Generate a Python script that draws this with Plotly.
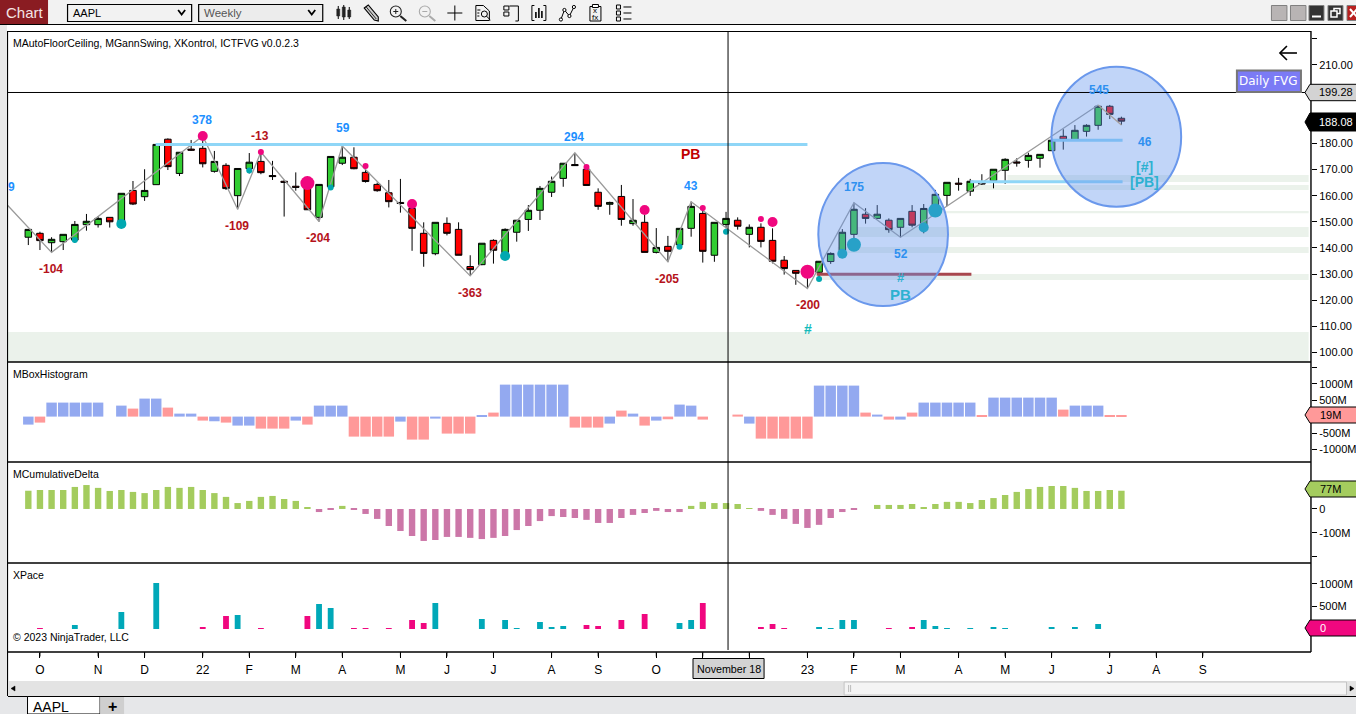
import plotly.graph_objects as go

W, H = 1356, 714
S = 1356 / 1353.0   # horizontal calibration of the photographed page
FONT = "Liberation Sans"

# ---------- data ----------
candle_open = [144.1,145.6,142.0,142.4,143.0,148.9,148.9,151.7,149.4,162.0,159.6,164.2,181.6,168.5,177.8,178.1,169.3,171.6,160.0,170.3,
 173.1,167.7,165.5,163.6,163.4,151.7,163.4,172.4,174.7,168.9,164.3,161.1,157.4,155.1,145.6,137.8,149.4,147.1,132.9,133.6,
 142.9,138.2,146.0,150.9,154.4,161.3,166.6,171.9,170.1,161.3,156.7,159.7,149.3,149.8,138.3,140.6,141.2,147.5,153.2,137.2,
 149.0,150.6,145.2,147.9,142.9,135.3,131.4,132.2,130.7,134.8,139.0,145.2,152.9,151.3,150.6,147.9,154.0,148.8,155.1,160.1,
 164.8,161.7,164.9,165.7,169.7,172.9,173.5,174.3,177.2,182.7,181.5,184.6,186.9,194.2,189.6]
candle_high = [147.1,146.2,144.1,145.2,150.3,153.0,152.2,151.7,160.9,165.6,170.1,179.6,181.9,176.6,181.3,182.8,177.1,172.4,170.4,176.3,
 177.7,173.3,166.0,168.9,167.3,164.3,175.0,179.0,178.5,171.3,165.0,166.0,166.4,156.8,149.8,149.8,151.7,149.8,137.2,141.8,
 143.3,147.5,150.6,156.4,163.7,167.3,172.4,176.2,171.7,162.8,157.7,164.1,158.7,152.6,147.6,144.6,147.5,157.7,155.1,149.8,
 153.8,151.7,149.0,149.4,147.5,136.9,131.4,132.2,134.9,138.3,147.2,157.3,155.2,156.4,151.3,151.3,156.4,156.8,162.2,165.1,
 166.8,166.4,168.2,170.1,174.3,174.3,176.4,175.8,182.3,185.4,187.0,187.3,194.7,194.7,190.2]
candle_low = [141.1,139.2,138.3,139.2,142.0,146.6,147.8,147.8,147.5,156.4,158.0,164.2,169.8,167.5,177.2,170.8,168.8,162.2,154.8,168.5,
 168.2,166.0,152.0,161.9,154.6,150.1,162.2,171.7,170.1,165.0,161.5,155.5,153.5,138.9,132.8,137.2,144.8,137.2,129.3,133.4,
 134.0,137.3,142.4,146.5,150.7,159.5,163.4,171.6,163.9,154.6,152.7,148.5,148.5,138.3,137.9,134.7,140.4,144.3,134.4,134.7,
 147.5,147.0,140.2,140.2,134.1,129.8,125.9,124.5,128.4,133.9,137.9,143.0,149.3,151.2,145.8,144.1,147.9,145.6,153.9,156.0,
 161.9,159.9,164.1,162.8,164.5,171.1,170.7,170.7,177.2,177.6,181.5,182.6,185.2,189.3,187.0]
candle_close = [147.1,142.8,143.3,145.2,149.0,150.2,151.3,150.0,160.9,156.8,162.0,179.6,171.1,176.6,177.4,172.2,173.1,162.7,170.4,172.8,
 168.8,167.3,165.1,163.2,154.6,164.3,175.0,174.7,170.3,165.4,161.9,157.7,157.0,147.5,137.9,149.8,145.6,137.2,131.7,141.8,
 139.1,147.1,150.6,154.4,162.8,165.5,172.4,171.5,163.9,155.9,157.4,150.9,150.6,138.3,140.2,138.7,147.5,155.9,138.7,149.8,
 151.3,148.3,147.9,142.5,134.9,132.1,130.3,129.7,134.9,137.9,146.0,154.8,151.3,152.9,147.0,151.3,148.7,155.1,160.5,165.1,
 164.4,165.5,164.5,170.1,173.9,172.5,175.4,175.8,181.2,181.3,185.0,186.9,194.2,191.1,188.5]

swing_idx = [-1.8,2,15,18,20,25,27,38,47,55,57,67,71,75,92]
swing_price = [156.4,138.3,182.8,154.8,176.7,150.1,179.0,129.3,176.4,134.7,157.7,124.5,157.3,144.1,194.7]
last_swing_idx = [92,94]
last_swing_price = [194.7,187.0]

pink_small_idx = [20,29,48,58,63]
pink_small_price = [176.7,171.3,171.0,155.3,151.1]
pink_mid_idx = [15,33,53,64]
pink_mid_price = [182.8,156.8,154.5,149.9]
pink_big_idx = [24,67]
pink_big_price = [164.8,130.9]
teal_small_idx = [4,19,26,56,60,68]
teal_small_price = [143.0,169.6,163.1,140.5,146.2,128.1]
teal_mid_idx = [8,41,70,77]
teal_mid_price = [149.2,136.9,137.8,147.8]
teal_big_idx = [71,78]
teal_big_price = [141.2,154.3]

box_values = [-244,-183,427,427,427,427,427,0,335,244,549,549,274,91,91,-122,-142,-183,-274,-274,
 -366,-366,-366,-122,-244,335,335,335,-610,-610,-610,-610,-152,-701,-701,-61,-518,-518,-518,30,
 122,975,975,975,975,975,975,-335,-335,-335,-213,183,91,-274,-122,-81,366,335,-91,0,
 0,61,-213,-671,-671,-671,-671,-671,945,945,945,945,122,61,-91,-91,122,427,427,427,
 427,427,30,579,579,579,579,579,579,213,335,335,335,30,19]
box_is_pink = [0,1,0,0,0,0,0,0,0,1,0,0,1,0,0,1,0,1,0,0,1,1,1,0,1,0,0,0,1,1,1,1,0,1,1,0,1,1,1,0,
 1,0,0,0,0,0,0,1,1,1,0,1,0,1,0,1,0,0,1,0,0,1,0,1,1,1,1,1,0,0,0,0,1,0,1,0,1,0,0,0,
 0,0,1,0,0,0,0,0,0,1,0,0,0,1,1]
delta_values = [77,80,80,80,93,101,89,76,80,72,67,80,93,89,93,80,67,51,25,34,
 51,55,42,34,8,-13,-4,13,-4,-21,-42,-72,-93,-114,-135,-131,-118,-118,-122,-127,
 -122,-114,-89,-72,-51,-30,-34,-38,-46,-59,-59,-38,-25,-17,-8,-13,-13,13,30,25,
 25,21,4,-8,-25,-42,-63,-80,-67,-38,-13,-4,0,17,17,17,21,8,21,30,
 30,25,38,46,59,72,84,93,97,97,89,76,76,80,77]
pace_idx = [1,4,8,11,15,17,18,20,24,25,26,28,29,31,33,34,35,39,41,42,44,45,46,48,49,51,53,56,57,58,
 63,64,65,68,69,70,71,74,76,77,78,79,81,83,84,88,90,92]
pace_values = [22,89,378,1022,44,289,311,22,289,556,467,22,22,22,200,133,578,222,200,22,156,44,67,89,67,200,333,133,200,578,
 44,111,22,44,22,200,200,22,44,200,67,22,22,44,22,44,44,111]
pace_is_pink = [1,0,0,0,1,1,0,1,1,0,0,1,1,1,1,1,0,0,0,0,0,0,0,1,1,1,1,0,0,1,
 1,1,1,0,0,0,0,1,1,0,0,0,0,0,0,0,0,0]

month_ticks = [1,6,10,15,19,23,27,32,36,40,45,49,54,58,62,67,71,75,80,84,88,93,97,101]
month_labels = ["O","N","D","22","F","M","A","M","J","J","A","S","O","","","23","F","M","A","M","J","J","A","S"]

fvg_zones = [(-1.75,110.1,96.4,107.8),(67.9,110.1,127.7,130.0),(69.6,110.1,138.1,140.4),(71.3,110.1,144.2,148.0),
             (78.7,110.1,153.3,154.1),(81.0,110.1,162.2,164.1),(84.2,110.1,165.2,167.9)]
ceiling_lines = [(10.95,67.0,179.6),(81.0,94.1,165.3),(88.0,94.1,181.2)]
floor_lines = [(67.8,81.1,129.9)]

price_ticks = [220,210,200,190,180,170,160,150,140,130,120,110,100]
price_labels = ["","210.00","","","180.00","170.00","160.00","150.00","140.00","130.00","120.00","110.00","100.00"]

# ---------- pixel helpers ----------
px = lambda x: x * S / W
py = lambda y: 1 - y / H
def dom(top, bottom):
    return [1 - bottom / H, 1 - top / H]
x_range = [(8 - 28.3) / 11.62, (1310 - 28.3) / 11.62]

shapes, notes = [], []
def rect(x0, y0, x1, y1, fill=None, line=None, lw=1, layer="above"):
    shapes.append(dict(type="rect", xref="paper", yref="paper", x0=px(x0), x1=px(x1), y0=py(y0), y1=py(y1),
                       fillcolor=fill or "rgba(0,0,0,0)", line=dict(color=line or "rgba(0,0,0,0)", width=lw if line else 0), layer=layer))
def path(pts, fill=None, line="#000", lw=1.2, close=False):
    d = "M" + " L".join(f"{px(a):.5f},{py(b):.5f}" for a, b in pts) + (" Z" if close else "")
    shapes.append(dict(type="path", xref="paper", yref="paper", path=d, fillcolor=fill or "rgba(0,0,0,0)",
                       line=dict(color=line or "rgba(0,0,0,0)", width=lw if line else 0), layer="above"))
def ell(x0, y0, x1, y1, fill=None, line="#000", lw=1.2):
    shapes.append(dict(type="circle", xref="paper", yref="paper", x0=px(x0), x1=px(x1), y0=py(y0), y1=py(y1),
                       fillcolor=fill or "rgba(0,0,0,0)", line=dict(color=line, width=lw), layer="above"))
def text(x, y, s, size=12, color="#000", anchor="center", bold=False, fam=FONT):
    notes.append(dict(xref="paper", yref="paper", x=px(x), y=py(y), text=f"<b>{s}</b>" if bold else s, showarrow=False,
                      xanchor=anchor, yanchor="middle", font=dict(family=fam, size=size, color=color), borderpad=0, borderwidth=0))

# ---------- traces ----------
fig = go.Figure()
idx = list(range(len(candle_open)))
fig.add_trace(go.Candlestick(x=idx, open=candle_open, high=candle_high, low=candle_low, close=candle_close,
    increasing=dict(fillcolor="#32CD32", line=dict(color="#000", width=1)),
    decreasing=dict(fillcolor="#FF0000", line=dict(color="#000", width=1)),
    whiskerwidth=0, hoverinfo="skip", showlegend=False))
fig.add_trace(go.Scatter(x=swing_idx, y=swing_price, mode="lines", line=dict(color="#9A9A9A", width=1.3), showlegend=False, hoverinfo="skip"))
fig.add_trace(go.Scatter(x=last_swing_idx, y=last_swing_price, mode="lines", line=dict(color="#D2A468", width=1.3), showlegend=False, hoverinfo="skip"))
for xs, ys, col, s in [(pink_small_idx, pink_small_price, "#F0077F", 6), (pink_mid_idx, pink_mid_price, "#F0077F", 10),
                       (pink_big_idx, pink_big_price, "#F0077F", 14), (teal_small_idx, teal_small_price, "#00A8B0", 6),
                       (teal_mid_idx, teal_mid_price, "#00A8B0", 10), (teal_big_idx, teal_big_price, "#00A8B0", 14)]:
    fig.add_trace(go.Scatter(x=xs, y=ys, mode="markers", marker=dict(color=col, size=s, line=dict(width=0)), showlegend=False, hoverinfo="skip"))

fig.add_trace(go.Bar(x=idx, y=box_values, yaxis="y2", width=0.9,
    marker=dict(color=["#FF9999" if p else "#93A9F0" for p in box_is_pink], line=dict(width=0)), showlegend=False, hoverinfo="skip"))
fig.add_trace(go.Bar(x=idx, y=delta_values, yaxis="y3", width=0.55,
    marker=dict(color=["#A4CC5E" if v >= 0 else "#CC77A8" for v in delta_values], line=dict(width=0)), showlegend=False, hoverinfo="skip"))
fig.add_trace(go.Bar(x=pace_idx, y=pace_values, yaxis="y4", width=0.5,
    marker=dict(color=["#F0077F" if p else "#00A8B8" for p in pace_is_pink], line=dict(width=0)), showlegend=False, hoverinfo="skip"))

# ---------- drawings in data space ----------
for x0, x1, y0, y1 in fvg_zones:
    shapes.append(dict(type="rect", xref="x", yref="y", x0=x0, x1=x1, y0=y0, y1=y1, fillcolor="#EBF2EB", line=dict(width=0), layer="below"))
for x0, x1, y in ceiling_lines:
    shapes.append(dict(type="line", xref="x", yref="y", x0=x0, x1=x1, y0=y, y1=y, line=dict(color="#8FD6F7", width=3), layer="above"))
for x0, x1, y in floor_lines:
    shapes.append(dict(type="line", xref="x", yref="y", x0=x0, x1=x1, y0=y, y1=y, line=dict(color="#A8474E", width=3), layer="above"))

# circles
ell(817.7, 163, 947.3, 306, fill="rgba(100,149,237,0.40)", line="#6A98EC", lw=2)
ell(1050.7, 66.7, 1180.3, 206.7, fill="rgba(100,149,237,0.40)", line="#6A98EC", lw=2)

# crosshair, frame
path([(727.5, 32), (727.5, 650)], lw=1)
path([(8, 92.5), (1310, 92.5)], lw=1)
for y in (362, 462, 563):
    path([(8, y), (1310, y)], lw=1.4)
path([(8, 31.5), (1310, 31.5)], lw=1.2)
path([(7.5, 31), (7.5, 696)], lw=1.2)
path([(1310, 31), (1310, 652)], lw=1.4)
path([(8, 652), (1310, 652)], lw=1.4)
for t in month_ticks:
    shapes.append(dict(type="line", xref="x", yref="paper", x0=t, x1=t, y0=py(652), y1=py(656.5),
                       line=dict(color="#000", width=1), layer="above"))

# arrow drawn on the chart
path([(1296, 53), (1279, 53)], lw=1.6)
path([(1286, 46), (1279, 53), (1286, 60)], lw=1.6)
rect(1236, 70.5, 1300, 92, fill="#7B7BF5", line="#777777", lw=2)
text(1268, 81, "Daily FVG", size=12, color="#FFFFFF", fam="DejaVu Sans")

# price / value tags
def tag(y0, y1, fill, label, color, tx=1335, anchor="center", border="#000"):
    ym = (y0 + y1) / 2
    path([(1304, ym), (1309, y0), (1358, y0), (1358, y1), (1309, y1)], fill=fill, line=border, lw=1, close=True)
    text(tx, ym, label, size=11, color=color, anchor=anchor)
tag(84.3, 100.7, "#D3D3D3", "199.28", "#000")
tag(113, 131, "#000000", "188.08", "#FFF")
tag(407, 423, "#FF9999", "19M", "#000", tx=1319, anchor="left")
tag(481, 497, "#A4CC5E", "77M", "#000", tx=1319, anchor="left")
tag(620, 636, "#F0077F", "0", "#FFF", tx=1319, anchor="left")

# swing labels
BL, RD, BL2, TE = "#1E90FF", "#B5121B", "#2E90F0", "#2DB1D0"
for x, y, s, c in [(11, 187, "9", BL), (202, 120, "378", BL), (343, 128, "59", BL), (574, 137, "294", BL), (690, 186, "43", BL),
                   (853, 187, "175", BL2), (900, 254, "52", BL2), (1098, 90, "545", BL2), (1144, 142, "46", BL2),
                   (51, 269, "-104", RD), (260, 136, "-13", RD), (237, 226, "-109", RD), (318, 238, "-204", RD),
                   (470, 293, "-363", RD), (667, 279, "-205", RD), (807, 305, "-200", RD)]:
    text(x, y, s, size=12, color=c, bold=True)
text(690, 154, "PB", size=14, color="#C00000", bold=True)
text(807, 329, "#", size=14, color="#14BBBB", bold=True)
text(900, 278, "#", size=13, color=TE, bold=True)
text(900, 294, "PB", size=15, color=TE, bold=True)
text(1144, 167, "[#]", size=14, color=TE, bold=True)
text(1144, 182, "[PB]", size=14, color=TE, bold=True)

# panel captions
text(13, 43, "MAutoFloorCeiling, MGannSwing, XKontrol, ICTFVG v0.0.2.3", size=10.5, anchor="left")
text(13, 374, "MBoxHistogram", size=10.5, anchor="left")
text(13, 474, "MCumulativeDelta", size=10.5, anchor="left")
text(13, 575, "XPace", size=10.5, anchor="left")
text(13, 637, "© 2023 NinjaTrader, LLC", size=10.5, anchor="left")

# ---------- window chrome ----------
rect(0, 0, 7, 714, fill="#E8E8E8")
rect(0, 0, 1358, 24, fill="#F2F2F2")
path([(0, 24.5), (1358, 24.5)], lw=1.2)
rect(0, 0, 48, 24, fill="#8A1C22")
text(25, 12.5, "Chart", size=15, color="#F4E4E4")
rect(67.5, 4.5, 191.5, 21.5, fill="#F2F2F2", line="#000", lw=1.2)
rect(198.5, 4.5, 322.5, 21.5, fill="#ECECEC", line="#000", lw=1.2)
text(73, 13, "AAPL", size=11, anchor="left")
text(204, 13, "Weekly", size=11.5, color="#555555", anchor="left")
path([(178, 10), (181.5, 14.5), (185, 10)], lw=1.8)
path([(308, 10), (311.5, 14.5), (315, 10)], lw=1.8)

# toolbar icons
for a, t, b, bt, bb in [(338, 6, 19, 9, 16), (343.5, 5, 20, 7, 17), (349, 7, 19, 10, 17)]:
    path([(a, t), (a, b)], lw=1)
    rect(a - 1.5, bt, a + 1.5, bb, fill="#222", line="#222", lw=0.5)
path([(364, 8), (368, 5), (378, 17), (378, 21), (374, 20)], fill="#CCC", lw=1.1, close=True)
path([(366, 7), (376, 19)], lw=0.8)
for c, x0, gray in [("#222", 390, False), ("#AAA", 419, True)]:
    ell(x0, 6, x0 + 11, 17, line=c, lw=1.1)
    path([(x0 + 3, 11.5), (x0 + 8, 11.5)], line=c, lw=1)
    if not gray:
        path([(x0 + 5.5, 9), (x0 + 5.5, 14)], line=c, lw=1)
    path([(x0 + 10, 16), (x0 + 16, 21)], line=c, lw=2)
path([(447, 13), (462, 13)], lw=1); path([(454.5, 5.5), (454.5, 20.5)], lw=1)
path([(483, 5.5), (475.5, 5.5), (475.5, 20.5), (489, 20.5), (489, 11), (483, 5.5)], lw=1)
ell(481, 11, 487, 17, lw=1); path([(486, 16), (490, 20)], lw=1)
path([(477, 10), (480, 10)], lw=1); path([(477, 13), (479, 13)], lw=1); path([(477, 16), (479, 16)], lw=1)
path([(509, 6), (518, 6), (518, 21), (515, 21)], lw=1); rect(503.5, 6, 508.5, 10, line="#000", lw=1); rect(503.5, 12, 508.5, 16, line="#000", lw=1)
path([(534, 5.5), (531.5, 5.5), (531.5, 20.5), (534, 20.5)], lw=1); path([(543, 5.5), (545.5, 5.5), (545.5, 20.5), (543, 20.5)], lw=1)
for a, b in [(535.5, 12), (538.5, 8), (541.5, 11)]:
    path([(a, b), (a, 18)], lw=1.6)
path([(560.5, 19.5), (564, 10), (569, 16), (573.5, 7)], lw=1)
for a, b in [(560.5, 19.5), (564, 10), (569, 16), (573.5, 7)]:
    ell(a - 1.6, b - 1.6, a + 1.6, b + 1.6, fill="#FFF", lw=1)
rect(589.5, 6.5, 600.5, 21, line="#000", lw=1); rect(592, 4.5, 598, 7.5, fill="#FFF", line="#000", lw=1)
text(595, 11, "x", size=8); text(595, 17, "fx", size=8)
for y in (7, 13, 19):
    rect(616, y - 2, 620, y + 2, line="#000", lw=1)
    path([(623, y), (631, y)], lw=1)
# window buttons
rect(1270.5, 5.5, 1286, 20.5, fill="#B8B4B4", line="#808080", lw=1)
rect(1289.5, 5.5, 1305, 20.5, fill="#B8B4B4", line="#808080", lw=1)
rect(1308, 5.5, 1323, 20.5, fill="#333333", line="#808080", lw=1)
path([(1311, 16.5), (1320, 16.5)], line="#FFF", lw=2)
rect(1327, 5.5, 1342, 20.5, fill="#333333", line="#808080", lw=1)
rect(1333, 8.5, 1339, 13.5, line="#FFF", lw=1.5); rect(1330, 11, 1336, 17, fill="#333333", line="#FFF", lw=1.5)
rect(1346, 5.5, 1358, 20.5, fill="#B8201F", line="#808080", lw=1)
path([(1349, 9), (1356, 17)], line="#FFF", lw=2); path([(1349, 17), (1356, 9)], line="#FFF", lw=2)
# crosshair date box
rect(692.5, 658.5, 763.5, 678.5, fill="#D3D3D3", line="#000", lw=1)
text(728, 668.5, "November 18", size=10.7)
# scrollbar + tabs
rect(8, 681, 1358, 696, fill="#E3E3E3")
rect(843.5, 682, 1345.5, 695, fill="#F4F4F4", line="#C4C4C4", lw=1)
path([(848, 685), (848, 692)], line="#BBB", lw=1); path([(850, 685), (850, 692)], line="#BBB", lw=1)
path([(15, 686), (11, 688.5), (15, 691)], fill="#000", lw=0.5, close=True)
path([(1349, 686), (1353, 688.5), (1349, 691)], fill="#000", lw=0.5, close=True)
rect(0, 696, 1358, 714, fill="#E6E7E9")
path([(8, 696.5), (1358, 696.5)], lw=1.2)
rect(27.5, 696.5, 100, 714, fill="#FFFFFF", line="#000", lw=1)
text(51, 707, "AAPL", size=14)
rect(100, 697, 124, 714, fill="#CFCFCF")
text(112, 706, "<b>+</b>", size=16)

# ---------- layout ----------
axis_font = dict(family=FONT, size=11, color="#000")
yax = dict(side="right", anchor="x", showgrid=False, zeroline=False, showline=False, ticks="outside", ticklen=5,
           tickcolor="#000", tickwidth=1, tickfont=axis_font, tickmode="array", fixedrange=True)
fig.update_layout(
    width=W, height=H, margin=dict(l=0, r=0, t=0, b=0), paper_bgcolor="#FFFFFF", plot_bgcolor="#FFFFFF",
    barmode="overlay", showlegend=False, font=dict(family=FONT), boxgap=0.2,
    xaxis=dict(domain=[px(8), px(1310)], range=x_range, anchor="y4", showgrid=False, zeroline=False, showline=False,
               ticks="outside", ticklen=5, tickwidth=1, tickcolor="#000", tickfont=dict(axis_font, size=12), tickmode="array",
               ticklabelstandoff=2, tickvals=month_ticks, ticktext=month_labels, tickangle=0,
               rangeslider=dict(visible=False), fixedrange=True),
    yaxis=dict(yax, domain=dom(32, 362), range=[96.37, 222.6], tickvals=price_ticks, ticktext=price_labels),
    yaxis2=dict(yax, domain=dom(363, 462), range=[-1384, 1634], tickvals=[1500, 1000, 500, 0, -500, -1000],
                ticktext=["", "1000M", "500M", "", "-500M", "-1000M"]),
    yaxis3=dict(yax, domain=dom(463, 563), range=[-228, 194], tickvals=[100, 0, -100, -200],
                ticktext=["", "0", "-100M", ""]),
    yaxis4=dict(yax, domain=dom(564, 652), range=[-511, 1444], tickvals=[1000, 500, 0], ticktext=["1000M", "500M", ""]),
    shapes=shapes, annotations=notes,
)
fig.write_html("out.html", config=dict(displayModeBar=False),
               post_script="document.body.style.margin='0';document.body.style.overflow='hidden';")
